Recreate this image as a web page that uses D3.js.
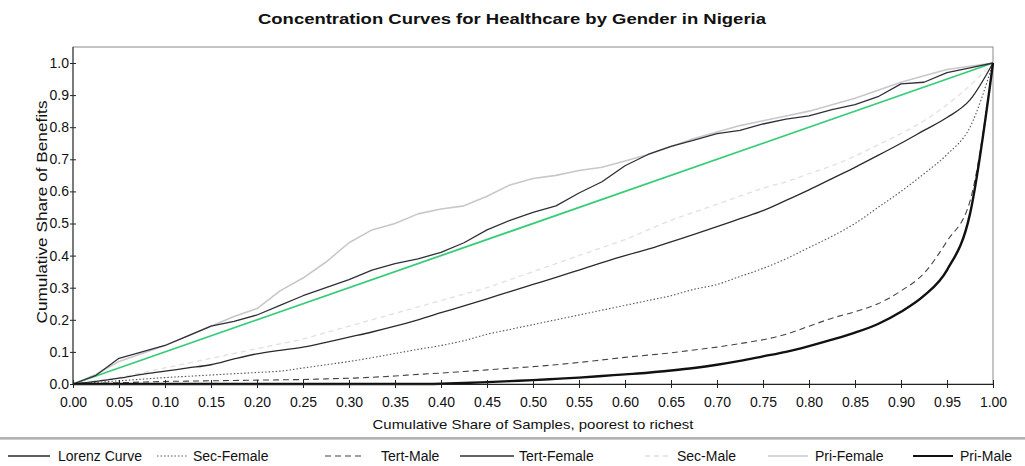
<!DOCTYPE html>
<html>
<head>
<meta charset="utf-8">
<script src="https://cdn.jsdelivr.net/npm/d3@7/dist/d3.min.js"></script>
<style>
  html, body { margin: 0; padding: 0; background: #fff; }
  svg { display: block; font-family: "Liberation Sans", Arial, sans-serif; }
  .tick text { fill: #111; }
</style>
</head>
<body>
<svg id="chart" width="1025" height="466"></svg>
<script>
// Cumulative share of samples (poorest to richest)
const shares = [0,0.025,0.05,0.075,0.1,0.125,0.15,0.175,0.2,0.225,0.25,0.275,0.3,0.325,0.35,0.375,0.4,0.425,0.45,0.475,0.5,0.525,0.55,0.575,0.6,0.625,0.65,0.675,0.7,0.725,0.75,0.775,0.8,0.825,0.85,0.875,0.9,0.925,0.95,0.975,1];

// Cumulative share of benefits for each curve
const lorenzCurve = [0,0.008,0.018,0.03,0.04,0.05,0.06,0.078,0.094,0.105,0.115,0.13,0.146,0.162,0.18,0.2,0.222,0.243,0.265,0.288,0.31,0.332,0.355,0.378,0.4,0.42,0.443,0.466,0.49,0.515,0.54,0.572,0.605,0.64,0.675,0.712,0.75,0.79,0.83,0.885,1];
const secFemale   = [0,0.005,0.01,0.015,0.02,0.024,0.028,0.032,0.036,0.04,0.05,0.06,0.07,0.082,0.095,0.108,0.12,0.135,0.155,0.17,0.185,0.2,0.215,0.23,0.245,0.26,0.275,0.295,0.31,0.335,0.36,0.39,0.425,0.46,0.5,0.55,0.6,0.655,0.715,0.8,1];
const tertMale    = [0,0.002,0.004,0.006,0.008,0.009,0.01,0.011,0.012,0.013,0.014,0.016,0.018,0.021,0.025,0.03,0.034,0.039,0.044,0.049,0.054,0.06,0.067,0.075,0.083,0.09,0.097,0.106,0.115,0.126,0.138,0.155,0.18,0.205,0.225,0.25,0.29,0.345,0.445,0.57,1];
const tertFemale  = [0,0.027,0.08,0.1,0.12,0.15,0.18,0.195,0.215,0.245,0.275,0.3,0.325,0.355,0.375,0.39,0.41,0.44,0.48,0.51,0.535,0.555,0.595,0.63,0.68,0.715,0.74,0.76,0.78,0.79,0.81,0.825,0.835,0.855,0.87,0.895,0.935,0.94,0.97,0.985,1];
const secMale     = [0,0.01,0.02,0.035,0.05,0.065,0.08,0.095,0.11,0.125,0.14,0.16,0.18,0.2,0.22,0.24,0.26,0.28,0.3,0.325,0.35,0.375,0.4,0.425,0.45,0.48,0.51,0.535,0.56,0.585,0.61,0.63,0.655,0.68,0.71,0.745,0.78,0.82,0.87,0.93,1];
const priFemale   = [0,0.03,0.07,0.095,0.12,0.15,0.18,0.21,0.235,0.29,0.33,0.38,0.44,0.48,0.5,0.53,0.545,0.555,0.585,0.62,0.64,0.65,0.665,0.675,0.695,0.715,0.74,0.765,0.785,0.805,0.82,0.835,0.85,0.87,0.89,0.915,0.94,0.96,0.98,0.99,1];
const priMale     = [0,0,0,0,0,0,0,0,0,0,0,0,0,0,0,0,0.001,0.003,0.006,0.009,0.012,0.016,0.02,0.025,0.03,0.035,0.042,0.05,0.06,0.072,0.086,0.1,0.118,0.138,0.16,0.187,0.225,0.275,0.355,0.53,1];

// Line of equality
const equalityX = [0, 1];
const equalityY = [0, 1];

const seriesNames = ["Lorenz Curve","Sec-Female","Tert-Male","Tert-Female","Sec-Male","Pri-Female","Pri-Male"];
const seriesValues = [lorenzCurve, secFemale, tertMale, tertFemale, secMale, priFemale, priMale];

const xTickValues = [0,0.05,0.1,0.15,0.2,0.25,0.3,0.35,0.4,0.45,0.5,0.55,0.6,0.65,0.7,0.75,0.8,0.85,0.9,0.95,1];
const yTickValues = [0,0.1,0.2,0.3,0.4,0.5,0.6,0.7,0.8,0.9,1];

const titleText = "Concentration Curves for Healthcare by Gender in Nigeria";
const xLabelText = "Cumulative Share of Samples, poorest to richest";
const yLabelText = "Cumulative Share of Benefits";

// Line styles, in legend order
const styles = {
  "Lorenz Curve": { stroke: "#2a2a2a", width: 1.3, dash: null },
  "Sec-Female":   { stroke: "#555",    width: 1.1, dash: "1.5,2" },
  "Tert-Male":    { stroke: "#444",    width: 1.1, dash: "6,4" },
  "Tert-Female":  { stroke: "#2f2f3a", width: 1.3, dash: null },
  "Sec-Male":     { stroke: "#e0e0e0", width: 1.3, dash: "5,4" },
  "Pri-Female":   { stroke: "#c8c8c8", width: 1.6, dash: null },
  "Pri-Male":     { stroke: "#111",    width: 2.4, dash: null }
};
// Legend layout: sample line start/end and label start
const legendLayout = [
  { line: [8, 50],    text: 58 },
  { line: [157, 187], text: 193 },
  { line: [325, 364], text: 381 },
  { line: [460, 514], text: 519 },
  { line: [645, 672], text: 677 },
  { line: [768, 808], text: 815 },
  { line: [913, 953], text: 960 }
];

const svg = d3.select("#chart");
const m = { left: 73, right: 993, top: 47, bottom: 384 };

const x = d3.scaleLinear().domain([0, 1]).range([m.left, m.right]);
const y = d3.scaleLinear().domain([0, 1]).range([m.bottom, 63]);

// Title
svg.append("text")
  .attr("x", 512).attr("y", 24)
  .attr("text-anchor", "middle")
  .attr("font-size", 14).attr("font-weight", "bold")
  .attr("textLength", 508).attr("lengthAdjust", "spacingAndGlyphs")
  .attr("fill", "#111")
  .text(titleText);

// Plot frame
svg.append("rect")
  .attr("x", m.left).attr("y", m.top)
  .attr("width", m.right - m.left).attr("height", m.bottom - m.top)
  .attr("fill", "none").attr("stroke", "#8a8a8a").attr("stroke-width", 1);

const plot = svg.append("g");

// Line of equality
const eqLine = d3.line().x(d => x(d[0])).y(d => y(d[1]));
plot.append("path")
  .datum(d3.zip(equalityX, equalityY))
  .attr("d", eqLine)
  .attr("fill", "none").attr("stroke", "#36cc78").attr("stroke-width", 1.8);

// Curves (light ones first so the darker ones sit on top)
const drawOrder = ["Sec-Male", "Pri-Female", "Lorenz Curve", "Sec-Female", "Tert-Male", "Tert-Female", "Pri-Male"];
const smooth = d3.line().x(d => x(d[0])).y(d => y(d[1])).curve(d3.curveMonotoneX);
const jagged = d3.line().x(d => x(d[0])).y(d => y(d[1]));
drawOrder.forEach(name => {
  const i = seriesNames.indexOf(name);
  const s = styles[name];
  const gen = (name === "Tert-Female" || name === "Pri-Female") ? jagged : smooth;
  plot.append("path")
    .datum(d3.zip(shares, seriesValues[i]))
    .attr("d", gen)
    .attr("fill", "none")
    .attr("stroke", s.stroke)
    .attr("stroke-width", s.width)
    .attr("stroke-dasharray", s.dash)
    .attr("stroke-linejoin", "round");
});

// X axis
const xAxis = svg.append("g")
  .attr("transform", `translate(0,${m.bottom})`)
  .call(d3.axisBottom(x).tickValues(xTickValues).tickFormat(d3.format(".2f")).tickSize(4).tickPadding(9));
xAxis.select(".domain").attr("stroke", "#222");
xAxis.selectAll(".tick line").attr("y1", -4).attr("y2", 4).attr("stroke", "#222");
xAxis.selectAll(".tick text").attr("font-size", 14).attr("font-family", "Liberation Sans, Arial, sans-serif");

// Y axis
const yAxis = svg.append("g")
  .attr("transform", `translate(${m.left},0)`)
  .call(d3.axisLeft(y).tickValues(yTickValues).tickFormat(d3.format(".1f")).tickSize(3).tickPadding(1));
yAxis.select(".domain").remove();
yAxis.append("line").attr("x1", 0).attr("x2", 0).attr("y1", m.top).attr("y2", m.bottom).attr("stroke", "#333");
yAxis.selectAll(".tick line").attr("x1", 3).attr("x2", -3).attr("stroke", "#222");
yAxis.selectAll(".tick text").attr("font-size", 14).attr("font-family", "Liberation Sans, Arial, sans-serif");

// Axis titles
svg.append("text")
  .attr("x", 533).attr("y", 429)
  .attr("text-anchor", "middle").attr("font-size", 13.5).attr("fill", "#111")
  .attr("textLength", 321).attr("lengthAdjust", "spacingAndGlyphs")
  .text(xLabelText);

svg.append("text")
  .attr("transform", "translate(47,212) rotate(-90)")
  .attr("text-anchor", "middle").attr("font-size", 14).attr("fill", "#111")
  .attr("textLength", 223).attr("lengthAdjust", "spacingAndGlyphs")
  .text(yLabelText);

// Legend
svg.append("line").attr("x1", 0).attr("x2", 1025).attr("y1", 438).attr("y2", 438)
  .attr("stroke", "#666").attr("stroke-width", 1);
svg.append("line").attr("x1", 0).attr("x2", 1025).attr("y1", 439.5).attr("y2", 439.5)
  .attr("stroke", "#ccc").attr("stroke-width", 1);

const legend = svg.append("g");
seriesNames.forEach((name, i) => {
  const s = styles[name];
  const L = legendLayout[i];
  legend.append("line")
    .attr("x1", L.line[0]).attr("x2", L.line[1])
    .attr("y1", 456).attr("y2", 456)
    .attr("stroke", s.stroke).attr("stroke-width", Math.min(s.width, 2))
    .attr("stroke-dasharray", s.dash);
  legend.append("text")
    .attr("x", L.text).attr("y", 461)
    .attr("font-size", 14).attr("fill", "#111")
    .text(name);
});
</script>
</body>
</html>
